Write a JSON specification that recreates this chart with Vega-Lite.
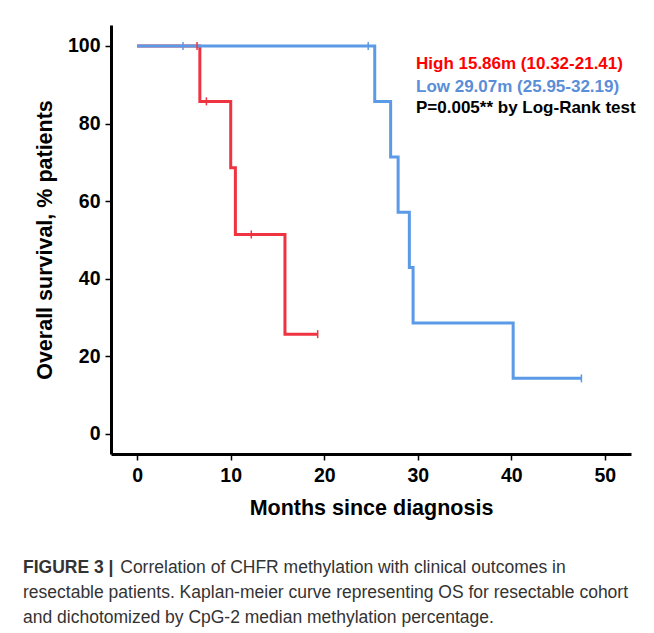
{
  "$schema": "https://vega.github.io/schema/vega-lite/v6.json",
  "width": 520,
  "height": 429,
  "autosize": "none",
  "padding": {"left": 111, "top": 25, "right": 23, "bottom": 179},
  "background": "white",
  "config": {
    "font": "Liberation Sans",
    "view": {"stroke": null},
    "axis": {
      "grid": false,
      "domainColor": "black",
      "domainWidth": 3,
      "tickColor": "black",
      "tickWidth": 1.5,
      "tickSize": 6,
      "labelFont": "Liberation Sans",
      "labelFontSize": 19.5,
      "labelFontWeight": "bold",
      "labelColor": "black",
      "titleFont": "Liberation Sans",
      "titleFontSize": 21.5,
      "titleFontWeight": "bold",
      "titleColor": "black"
    }
  },
  "title": {
    "text": "FIGURE 3 |",
    "subtitle": [
      "\u200b\u00a0\u00a0\u00a0\u00a0\u00a0\u00a0\u00a0\u00a0\u00a0\u00a0\u00a0\u00a0\u00a0\u00a0\u00a0\u00a0\u00a0\u00a0\u00a0\u00a0Correlation of CHFR methylation with clinical outcomes in",
      "resectable patients. Kaplan-meier curve representing OS for resectable cohort",
      "and dichotomized by CpG-2 median methylation percentage."
    ],
    "orient": "bottom",
    "anchor": "start",
    "frame": "group",
    "dx": -88,
    "offset": 40,
    "font": "Liberation Sans",
    "fontSize": 17.5,
    "fontWeight": "bold",
    "color": "#333333",
    "subtitleFont": "Liberation Sans",
    "subtitleFontSize": 17.5,
    "subtitleColor": "#333333",
    "subtitleLineHeight": 25,
    "subtitlePadding": -17.5
  },
  "datasets": {
    "curve": [
      {"group": "High", "month": 0, "surv": 100},
      {"group": "High", "month": 6.7, "surv": 85.7},
      {"group": "High", "month": 10.0, "surv": 68.6},
      {"group": "High", "month": 10.5, "surv": 51.4},
      {"group": "High", "month": 15.8, "surv": 25.7},
      {"group": "High", "month": 19.3, "surv": 25.7},
      {"group": "Low", "month": 0, "surv": 100},
      {"group": "Low", "month": 25.4, "surv": 85.7},
      {"group": "Low", "month": 27.1, "surv": 71.4},
      {"group": "Low", "month": 27.9, "surv": 57.1},
      {"group": "Low", "month": 29.1, "surv": 42.9},
      {"group": "Low", "month": 29.5, "surv": 28.6},
      {"group": "Low", "month": 40.2, "surv": 14.3},
      {"group": "Low", "month": 47.5, "surv": 14.3}
    ],
    "censor": [
      {"group": "High", "month": 6.4, "surv": 100},
      {"group": "High", "month": 7.4, "surv": 85.7},
      {"group": "High", "month": 12.2, "surv": 51.4},
      {"group": "High", "month": 19.3, "surv": 25.7},
      {"group": "Low", "month": 4.9, "surv": 100},
      {"group": "Low", "month": 24.7, "surv": 100},
      {"group": "Low", "month": 47.5, "surv": 14.3}
    ]
  },
  "encoding": {
    "x": {
      "field": "month",
      "type": "quantitative",
      "scale": {"domain": [-2.8, 52.8], "nice": false, "zero": false},
      "axis": {"values": [0, 10, 20, 30, 40, 50], "title": "Months since diagnosis", "labelPadding": 6, "titlePadding": 13}
    },
    "y": {
      "field": "surv",
      "type": "quantitative",
      "scale": {"domain": [-5.2, 105.4], "nice": false, "zero": false},
      "axis": {"values": [0, 20, 40, 60, 80, 100], "title": "Overall survival, % patients", "labelPadding": 5, "titlePadding": 11}
    },
    "color": {
      "field": "group",
      "type": "nominal",
      "scale": {"domain": ["High", "Low"], "range": ["#ef3340", "#5b9ae6"]},
      "legend": {
        "orient": "none",
        "legendX": 305,
        "legendY": 30,
        "title": "P=0.005** by Log-Rank test",
        "titleOrient": "bottom",
        "titleAnchor": "start",
        "titleAlign": "left",
        "titleFont": "Liberation Sans",
        "titleFontSize": 17,
        "titleFontWeight": "bold",
        "titleColor": "black",
        "titlePadding": 5,
        "titleLimit": 400,
        "labelFont": "Liberation Sans",
        "labelFontSize": 17,
        "labelFontWeight": "bold",
        "labelLimit": 400,
        "labelOffset": -17,
        "symbolSize": 0,
        "symbolOpacity": 0,
        "symbolStrokeWidth": 0,
        "rowPadding": 5,
        "labelExpr": "datum.value === 'High' ? 'High 15.86m (10.32-21.41)' : 'Low 29.07m (25.95-32.19)'",
        "encode": {"labels": {"update": {"fill": {"signal": "datum.value === 'High' ? '#ff0000' : '#5a8ed8'"}}}}
      }
    }
  },
  "layer": [
    {
      "data": {"name": "curve"},
      "mark": {"type": "line", "interpolate": "step-after", "strokeWidth": 3}
    },
    {
      "data": {"name": "censor"},
      "mark": {"type": "point", "shape": "M0,-1L0,1", "size": 64, "strokeWidth": 1.5, "filled": false, "opacity": 1}
    }
  ]
}
